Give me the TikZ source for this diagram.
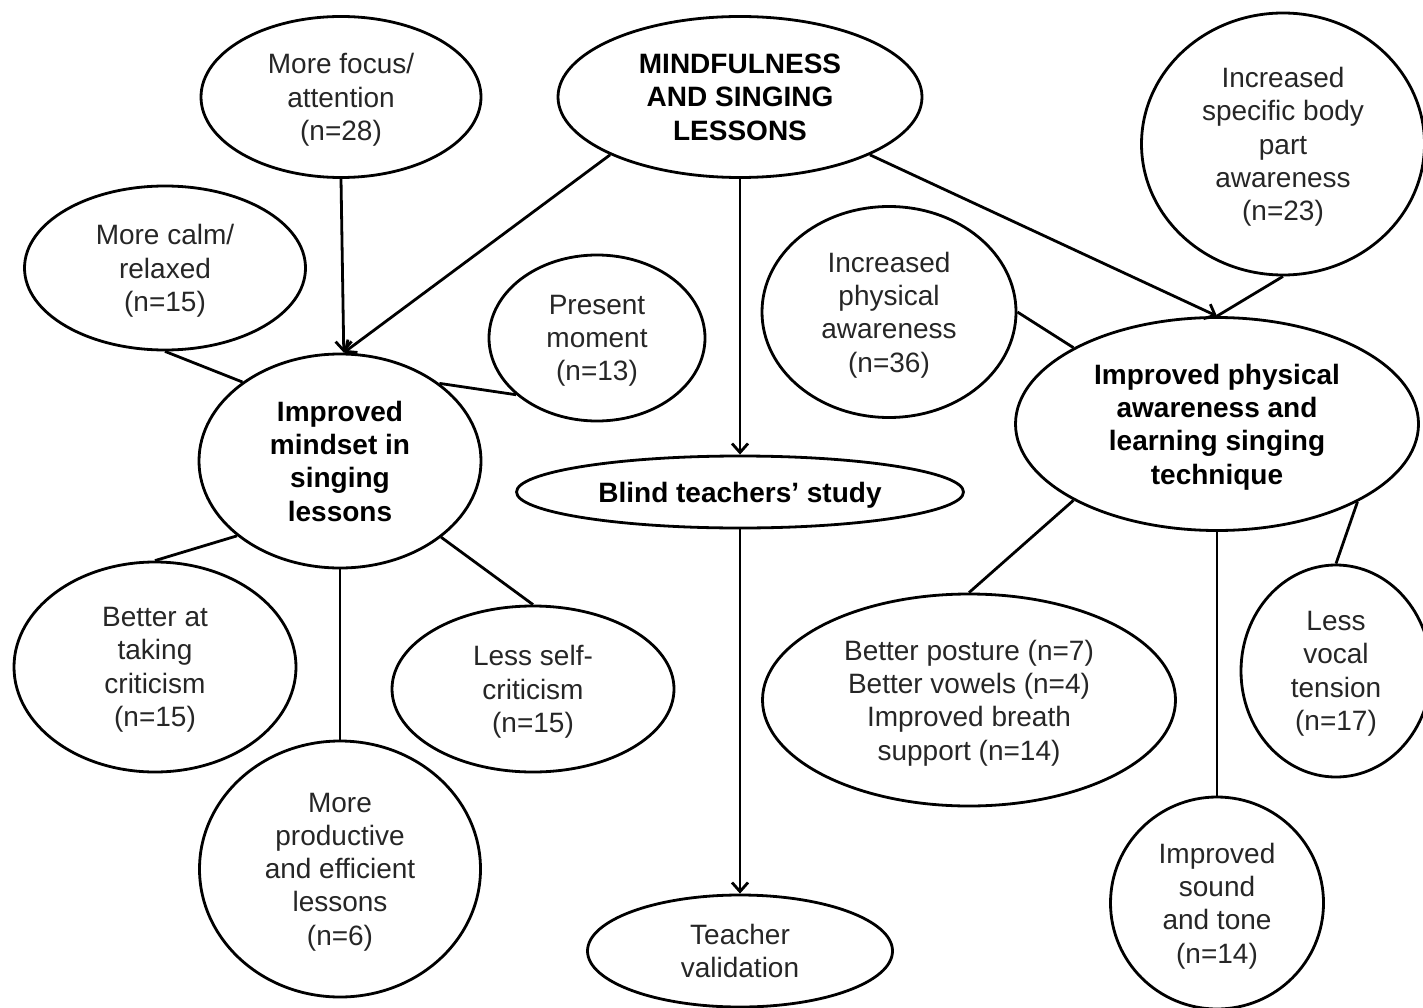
\documentclass[tikz,border=0pt]{standalone}
\usepackage{fontspec}
\setmainfont{Liberation Sans}
\usetikzlibrary{shapes.geometric,arrows.meta}
\begin{document}
\begin{tikzpicture}[x=1pt,y=-1pt,
  bubble/.style={draw, ellipse, line width=2.8pt, inner sep=0pt, align=center,
    text depth=0pt, font=\fontsize{28}{33.3}\selectfont, text=black!85},
  head/.style={bubble, font=\fontsize{28}{33.3}\selectfont\bfseries, text=black},
  link/.style={line width=2.8pt},
  flow/.style={line width=2.8pt, -{Straight Barb[length=9pt,width=16pt,line width=2.8pt]}}]
\useasboundingbox (0,0) rectangle (1423,1008);

% central topic and the study branch
\node[head, minimum width=364pt, minimum height=161pt] (mind) at (740,97) {MINDFULNESS\\AND SINGING\\LESSONS};
\node[head, minimum width=447pt, minimum height=72pt] (blind) at (740,492) {Blind teachers’ study};
\node[bubble, minimum width=305pt, minimum height=112pt] (valid) at (740,951) {Teacher\\validation};

% mindset cluster
\node[head, minimum width=282pt, minimum height=214pt] (mindset) at (340,461) {Improved\\mindset in\\singing\\lessons};
\node[bubble, minimum width=280pt, minimum height=161pt] (focus) at (341,97) {More focus/\\attention\\(n=28)};
\node[bubble, minimum width=281pt, minimum height=164pt] (calm) at (165,268) {More calm/\\relaxed\\(n=15)};
\node[bubble, minimum width=216pt, minimum height=166pt] (present) at (597,338) {Present\\moment\\(n=13)};
\node[bubble, minimum width=282pt, minimum height=210pt] (crit) at (155,667) {Better at\\taking\\criticism\\(n=15)};
\node[bubble, minimum width=282pt, minimum height=166pt] (self) at (533,689) {Less self-\\criticism\\(n=15)};
\node[bubble, minimum width=281pt, minimum height=256pt] (prod) at (340,869) {More\\productive\\and efficient\\lessons\\(n=6)};

% physical awareness cluster
\node[head, minimum width=403pt, minimum height=213pt] (phys) at (1217,424) {Improved physical\\awareness and\\learning singing\\technique};
\node[bubble, minimum width=254pt, minimum height=211pt] (physaw) at (889,312) {Increased\\physical\\awareness\\(n=36)};
\node[bubble, minimum width=283pt, minimum height=262pt] (body) at (1283,144) {Increased\\specific body\\part\\awareness\\(n=23)};
\node[bubble, minimum width=413pt, minimum height=212pt] (posture) at (969,700) {Better posture (n=7)\\Better vowels (n=4)\\Improved breath\\support (n=14)};
\node[bubble, minimum width=190pt, minimum height=212pt] (vocal) at (1336,671) {Less\\vocal\\tension\\(n=17)};
\node[bubble, minimum width=213pt, minimum height=212pt] (sound) at (1217,903) {Improved\\sound\\and tone\\(n=14)};

% arrows
\draw[flow] (mind.204) -- (mindset.88);
\draw[flow] (focus.south) -- (mindset.88);
\draw[flow] (mind.south) -- (blind.north);
\draw[flow] (mind.336) -- (phys.north);
\draw[flow] (blind.south) -- (valid.north);

% plain links
\draw[link] (calm.south) -- (mindset.141.7);
\draw[link] (present.215.5) -- (mindset.38);
\draw[link] (crit.north) -- (mindset.216);
\draw[link] (prod.north) -- (mindset.south);
\draw[link] (self.north) -- (mindset.323);
\draw[link] (physaw.east) -- (phys.152);
\draw[link] (body.south) -- (phys.north);
\draw[link] (posture.north) -- (phys.208);
\draw[link] (vocal.north) -- (phys.331.7);
\draw[link] (sound.north) -- (phys.south);
\end{tikzpicture}
\end{document}
